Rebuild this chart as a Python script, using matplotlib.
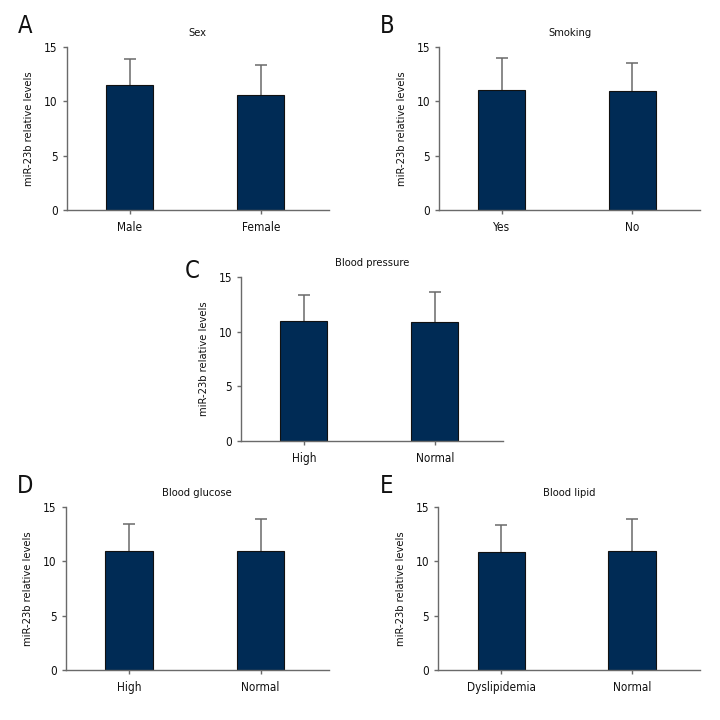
import matplotlib
matplotlib.use("Agg")
import matplotlib.pyplot as plt

plt.rcParams['font.family'] = ['DejaVu Sans']
plt.rcParams['font.stretch'] = 'condensed'

# panel data
letters = ["A", "B", "C", "D", "E"]
titles = ["Sex", "Smoking", "Blood pressure", "Blood glucose", "Blood lipid"]
groups = [["Male", "Female"], ["Yes", "No"], ["High", "Normal"],
          ["High", "Normal"], ["Dyslipidemia", "Normal"]]
means = [[11.5, 10.59], [11.02, 10.93], [11.02, 10.87], [10.92, 10.97], [10.87, 10.97]]
sds = [[2.34, 2.69], [2.97, 2.54], [2.33, 2.81], [2.50, 2.91], [2.43, 2.94]]
ylabel = "miR-23b relative levels"

# axes boxes in pixels: left, top(15), right, zero
boxes = [(66.7, 46.7, 329, 210), (439, 46.7, 700, 210), (241, 277.3, 503, 440.7),
         (65.7, 506.7, 329, 670.3), (438.3, 506.7, 700, 670.3)]
letter_pos = [(25, 26), (387, 26), (192, 271), (25, 486), (387, 486)]

bar_color = "#002b55"
gray = "#6a6a6a"
W = H = 720

fig = plt.figure(figsize=(7.2, 7.2), dpi=100)
for i in range(5):
    l, t, r, b = boxes[i]
    ax = fig.add_axes([l / W, 1 - b / H, (r - l) / W, (b - t) / H])
    x = [0, 1]
    ax.bar(x, means[i], width=0.36, color=bar_color, edgecolor="#111111", linewidth=0.8, zorder=2)
    ax.errorbar(x, means[i], yerr=sds[i], fmt="none", ecolor=gray,
                elinewidth=1.1, capsize=4, capthick=1.1, zorder=1)
    ax.set_xlim(-0.48, 1.52)
    ax.set_ylim(0, 15)
    ax.set_yticks([0, 5, 10, 15])
    ax.set_xticks(x)
    ax.set_xticklabels(groups[i])
    for s in ["top", "right"]:
        ax.spines[s].set_visible(False)
    for s in ["left", "bottom"]:
        ax.spines[s].set_color(gray)
        ax.spines[s].set_linewidth(1.0)
    ax.tick_params(axis="both", colors=gray, length=3, width=1.0, labelcolor="#111111", labelsize=8.5)
    ax.tick_params(axis="x", pad=5)
    ax.set_ylabel(ylabel, fontsize=8, color="#111111", labelpad=7)
    ax.set_title(titles[i], fontsize=8, color="#111111", pad=8)
    fig.text(letter_pos[i][0] / W, 1 - letter_pos[i][1] / H, letters[i],
             fontsize=17, ha="center", va="center", color="#111111")

fig.savefig("out.png", dpi=100, facecolor="white")
